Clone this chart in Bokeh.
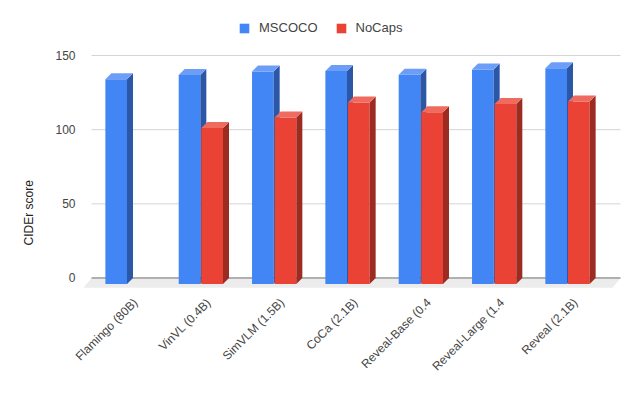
import math
from bokeh.plotting import figure
from bokeh.models import Range1d, FixedTicker, Legend, LegendItem, Title
from bokeh.embed import file_html
from bokeh.resources import INLINE

# ---- data ----
categories = ["Flamingo (80B)", "VinVL (0.4B)", "SimVLM (1.5B)", "CoCa (2.1B)",
              "Reveal-Base (0.4", "Reveal-Large (1.4", "Reveal (2.1B)"]
mscoco = [138.1, 140.9, 143.3, 143.6, 141.1, 144.6, 145.4]
nocaps = [float("nan"), 105.1, 112.2, 122.4, 115.8, 121.3, 123.0]
series_names = ["MSCOCO", "NoCaps"]
y_ticks = [0, 50, 100, 150]

# ---- geometry / style ----
PX_X = 73.33   # screen px per category
PX_Y = 1.4833  # screen px per CIDEr unit
DX = 6 / PX_X  # 3D depth (x)
DY = 6 / PX_Y  # 3D depth (y)
BAR_W = 0.295
GAP = 0.007
LABEL_SHIFT = 0.11
FONT = "Liberation Sans"
TXT = "#444444"

colors = {
    "MSCOCO": dict(front="#4285f4", side="#2c57a6", top="#6d9ef7"),
    "NoCaps": dict(front="#ea4335", side="#9c2b22", top="#ef6b5f"),
}

p = figure(width=624, height=392, output_backend="svg", toolbar_location=None,
           x_range=Range1d(-0.614, 6.75), y_range=Range1d(-7.08, 176.97),
           min_border_left=82, min_border_right=2, min_border_top=15,
           min_border_bottom=104)
p.outline_line_color = None
p.xgrid.visible = False
p.ygrid.visible = False

# floor
x_back0, x_back1 = -0.491, 6.723
floor_depth = 6.6
p.patch([x_back0, x_back1, x_back1 - 8 / PX_X, x_back0 - 8 / PX_X],
        [0, 0, -floor_depth, -floor_depth], fill_color="#ececec", line_color=None)

# gridlines on back wall
grid_y = [t for t in y_ticks if t != 0]
p.segment(x0=[x_back0] * len(grid_y), x1=[x_back1] * len(grid_y), y0=grid_y, y1=grid_y,
          line_color="#d4d4d4", line_width=1)
p.segment(x0=[x_back0], x1=[x_back1], y0=[0], y1=[0], line_color="#b0b0b0", line_width=2)

# bars
front_renderers = {}
for s, vals in zip(series_names, [mscoco, nocaps]):
    c = colors[s]
    if s == "MSCOCO":
        lefts = [i - GAP - BAR_W for i in range(len(categories))]
    else:
        lefts = [i + GAP for i in range(len(categories))]
    rights = [l + BAR_W for l in lefts]
    ok = [i for i, v in enumerate(vals) if not math.isnan(v)]
    L = [lefts[i] for i in ok]
    R = [rights[i] for i in ok]
    V = [vals[i] for i in ok]
    fr = p.quad(left=L, right=R, bottom=[-DY] * len(V), top=[v - DY for v in V],
                fill_color=c["front"], line_color=None)
    front_renderers[s] = fr
    p.patches(xs=[[r, r + DX, r + DX, r] for r in R],
              ys=[[-DY, 0, v, v - DY] for v in V],
              fill_color=c["side"], line_color=None)
    p.patches(xs=[[l, r, r + DX, l + DX] for l, r in zip(L, R)],
              ys=[[v - DY, v - DY, v, v] for v in V],
              fill_color=c["top"], line_color=None)

# axes
xa = p.xaxis[0]
ticks = [i + LABEL_SHIFT for i in range(len(categories))]
xa.ticker = FixedTicker(ticks=ticks)
xa.major_label_overrides = {t: c for t, c in zip(ticks, categories)}
xa.major_label_orientation = math.pi / 4
xa.axis_line_color = None
xa.major_tick_line_color = None
xa.minor_tick_line_color = None
xa.major_tick_out = 0
xa.major_label_standoff = 12
xa.major_label_text_font = FONT
xa.major_label_text_font_size = "12px"
xa.major_label_text_color = TXT

ya = p.yaxis[0]
ya.ticker = FixedTicker(ticks=y_ticks)
ya.axis_line_color = None
ya.major_tick_line_color = None
ya.minor_tick_line_color = None
ya.major_tick_out = 0
ya.major_label_standoff = 7
ya.major_label_text_font = FONT
ya.major_label_text_font_size = "12px"
ya.major_label_text_color = TXT

p.add_layout(Title(text="CIDEr score", align="left", offset=43, standoff=33,
                   text_font=FONT, text_font_size="12px", text_font_style="normal",
                   text_color="#222222"), "left")

legend = Legend(items=[LegendItem(label=s, renderers=[front_renderers[s]]) for s in series_names],
                orientation="horizontal", location=(156, 253),
                border_line_color=None, background_fill_alpha=0,
                glyph_width=12, glyph_height=12, label_standoff=9, spacing=17,
                padding=0, margin=0, label_height=12,
                label_text_font=FONT, label_text_font_size="13px", label_text_color=TXT)
p.add_layout(legend)

open("out.html", "w").write(file_html(p, INLINE))
